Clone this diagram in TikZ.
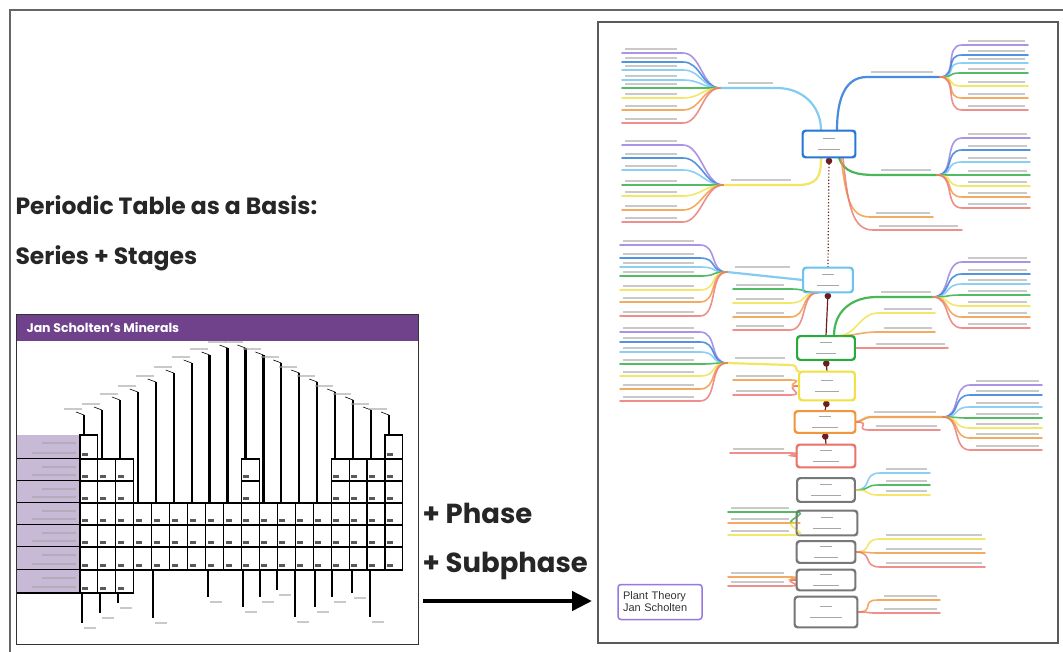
\documentclass[tikz,border=0pt]{standalone}
\usepackage{fontspec}
\setmainfont{Poppins}
\newfontfamily\plainfont{Liberation Sans}
\usetikzlibrary{arrows.meta}
\definecolor{ptPurple}{RGB}{112, 66, 140}
\definecolor{ptLavender}{RGB}{200, 185, 215}
\definecolor{mmPurple}{RGB}{150, 120, 225}
\definecolor{mmBlue}{RGB}{40, 120, 215}
\definecolor{mmLightBlue}{RGB}{110, 195, 240}
\definecolor{mmGreen}{RGB}{40, 170, 60}
\definecolor{mmYellow}{RGB}{240, 225, 70}
\definecolor{mmOrange}{RGB}{240, 150, 60}
\definecolor{mmRed}{RGB}{235, 115, 110}
\definecolor{mmGray}{RGB}{120, 120, 120}
\definecolor{linkRed}{RGB}{110, 30, 30}

\tikzset{
  leaf/.style={draw=#1, line width=1.6pt, opacity=0.8, line cap=round},
  leaftext/.style={draw=black!35, line width=1.5pt, opacity=0.6},
  branch/.style={draw=#1, line width=2.2pt, opacity=0.85, line cap=round},
  mmbox/.style={draw=#1, fill=white, text=black!35, line width=1.4pt, rounded corners=3pt, align=center, inner sep=1pt},
  link/.style={draw=linkRed, line width=1.2pt, -{Circle[length=6.5pt]}},
  ptline/.style={draw=black, line width=1.1pt},
  bigtext/.style={anchor=base west, text=black!85, font=\bfseries\fontsize{#1}{#1}\selectfont}
}
% leaves fanned out to the left / right of a hub
\newcommand{\fanL}[4]{\foreach \yy/\cc in {#4}{%
  \draw[leaf=\cc] (#1) .. controls +(-18,0) and +(18,0) .. (#3,\yy) -- (#2,\yy);
  \draw[leaftext] (#2+3,\yy-4) -- (#3-6,\yy-4);}}
\newcommand{\fanR}[4]{\foreach \yy/\cc in {#4}{%
  \draw[leaf=\cc] (#1) .. controls +(18,0) and +(-18,0) .. (#2,\yy) -- (#3,\yy);
  \draw[leaftext] (#2+6,\yy-4) -- (#3-3,\yy-4);}}
\newcommand{\mmtxt}[2]{\rule{#1pt}{1.5pt}\\[-1pt]\rule{#2pt}{1.5pt}}
% one cell of the periodic table
\newcommand{\ptcell}[3]{%
  \draw[ptline] (80+#1*17.94,#2) rectangle ++(17.94,#3-#2);
  \fill[black!65] (80+#1*17.94+2,#3-6) rectangle ++(6,2.5);}

\begin{document}
\begin{tikzpicture}[x=1pt, y=-1pt]
  \useasboundingbox (0,0) rectangle (1063,651);
  \clip (0,0) rectangle (1063,651);
  \fill[white] (0,0) rectangle (1063,651);
  % outer frame
  \draw[black!60, line width=1.5pt] (10,10) rectangle (1090,680);

  % title texts
  \node[bigtext=23.5] (title) at (12,214) {Periodic Table as a Basis:};
  \node[bigtext=23.5] (subtitle) at (12,264) {Series + Stages};
  \node[bigtext=27.5] (phase) at (419,523) {+ Phase};
  \node[bigtext=27.5] (subphase) at (419,572) {+ Subphase};

  % periodic table panel
  \fill[ptPurple] (16,314) rectangle (418,341);
  \node[anchor=west, text=white, font=\bfseries\fontsize{12.5}{13}\selectfont] (pthead) at (23,328) {Jan Scholten's Minerals};
  \foreach \ya/\yb in {435/459,459/481,481/503,503/525,525/547,547/570,570/593}{
    \fill[ptLavender] (17,\ya) rectangle (80,\yb);
    \draw[line width=1.6pt] (17,\yb) -- (80,\yb);
    \draw[leaftext] (42,\ya+8) -- (76,\ya+8);
    \draw[leaftext] (32,\yb-6) -- (76,\yb-6);
  }
  \foreach \i in {0,17} {\ptcell{\i}{435}{459}}
  \foreach \i in {0,1,2,9,14,15,16,17} {\ptcell{\i}{459}{481} \ptcell{\i}{481}{503}}
  \foreach \i in {0,...,17} {\ptcell{\i}{503}{525} \ptcell{\i}{525}{547} \ptcell{\i}{547}{570}}
  \foreach \i in {0,1,2} {\ptcell{\i}{570}{593}}
  % stage lines above the table
  \foreach \i/\t/\b in {0/415/435,1/410/459,2/400/459,3/392/503,4/382/503,5/373/503,6/363/503,7/355/503,8/348/503,
                        9/348/459,10/355/503,11/363/503,12/373/503,13/382/503,14/392/459,15/400/459,16/410/459,17/415/435}{
    \draw[line width=2.2pt] (80+\i*17.94+4,\b) -- (80+\i*17.94+4,\t);
    \draw[line width=0.6pt] (80+\i*17.94+4,\t) -- (80+\i*17.94-4,\t-3);
    \draw[leaftext] (80+\i*17.94-16,\t-6) -- (80+\i*17.94+2,\t-6);
  }
  % lines below the table
  \foreach \x/\b/\t in {82/623/593,100/613/593,118/603/593,153/618/570,208/597/570,243/607/570,260/597/570,
                        277/590/570,295/617/570,315/607/570,332/597/570,352/593/570,370/617/570}{
    \draw[line width=2pt] (\x,\t) -- (\x,\b);
    \draw[leaftext] (\x+2,\b+5) -- (\x+14,\b+5);
  }
  \draw[black!80, line width=1pt] (16,314) rectangle (418,644);

  % arrow to the mind map
  \coordinate (arrS) at (423,601);
  \coordinate (arrE) at (592,601);
  \draw[line width=4.5pt, -{Triangle[length=20pt, width=19pt]}] (arrS) -- (arrE);

  % mind map panel
  \draw[black!65, line width=2pt] (598,22) rectangle (1058,643);

  % stage boxes
  \node[mmbox=mmBlue, minimum width=52pt, minimum height=26pt] (blue) at (829,144) {\mmtxt{12}{22}};
  \node[mmbox=mmLightBlue, minimum width=49pt, minimum height=24pt] (lblue) at (828,280) {\mmtxt{12}{22}};
  \node[mmbox=mmGreen, minimum width=57pt, minimum height=23pt] (green) at (826,348) {\mmtxt{12}{20}};
  \node[mmbox=mmYellow, minimum width=55pt, minimum height=28pt] (yellow) at (827,386) {\mmtxt{12}{24}};
  \node[mmbox=mmOrange, minimum width=60pt, minimum height=21pt] (orange) at (825,422) {\mmtxt{12}{26}};
  \node[mmbox=mmRed, minimum width=58pt, minimum height=22pt] (red) at (826,456) {\mmtxt{12}{26}};
  \node[mmbox=mmGray, minimum width=57pt, minimum height=23pt] (grayA) at (826,490) {\mmtxt{12}{30}};
  \node[mmbox=mmGray, minimum width=60pt, minimum height=24pt] (grayB) at (827,523) {\mmtxt{12}{28}};
  \node[mmbox=mmGray, minimum width=58pt, minimum height=21pt] (grayC) at (826,552) {\mmtxt{12}{24}};
  \node[mmbox=mmGray, minimum width=58pt, minimum height=20pt] (grayD) at (826,580) {\mmtxt{12}{26}};
  \node[mmbox=mmGray, minimum width=62pt, minimum height=30pt] (grayE) at (826,612) {\mmtxt{12}{32}};

  % links between the stages
  \draw[link, dotted] (lblue.north) -- (blue.south);
  \draw[link] (green.north) -- (lblue.south);
  \draw[link] (yellow.north) -- (green.south);
  \draw[link] (orange.north) -- (yellow.south);
  \draw[link] (red.north) -- (orange.south);

  % branches of the blue box
  \coordinate (tlHub) at (720,88);   \coordinate (tlKnee) at (777,88);
  \coordinate (trHub) at (940,77);   \coordinate (trKnee) at (867,77);
  \coordinate (blHub) at (723,185);  \coordinate (blKnee) at (797,185);
  \coordinate (brHub) at (937,175);  \coordinate (brKnee) at (877,175);
  \draw[branch=mmLightBlue] ([xshift=-8pt]blue.north) .. controls +(0,-25) and +(25,0) .. (tlKnee) -- (tlHub);
  \draw[branch=mmBlue] ([xshift=8pt]blue.north) .. controls +(0,-25) and +(-25,0) .. (trKnee) -- (trHub);
  \draw[branch=mmYellow] ([xshift=-8pt]blue.south) .. controls +(0,20) and +(20,0) .. (blKnee) -- (blHub);
  \draw[branch=mmGreen] ([xshift=10pt]blue.south) .. controls +(5,15) and +(-20,0) .. (brKnee) -- (brHub);
  \draw[leaftext] (tlHub) ++(8,-5) -- ++(45,0);
  \draw[leaftext] (trKnee) ++(4,-5) -- ++(62,0);
  \draw[leaftext] (blHub) ++(8,-5) -- ++(60,0);
  \draw[leaftext] (brKnee) ++(4,-5) -- ++(50,0);
  \fanL{tlHub}{622}{683}{53/mmPurple,62/mmBlue,70/mmLightBlue,80/mmLightBlue,88/mmGreen,98/mmYellow,110/mmOrange,123/mmRed}
  \fanR{trHub}{962}{1028}{45/mmPurple,55/mmBlue,63/mmLightBlue,73/mmGreen,86/mmYellow,98/mmOrange,110/mmRed}
  \fanL{blHub}{622}{683}{145/mmPurple,158/mmBlue,170/mmLightBlue,185/mmGreen,196/mmYellow,210/mmOrange,222/mmRed}
  \fanR{brHub}{962}{1030}{138/mmPurple,150/mmBlue,162/mmLightBlue,175/mmGreen,186/mmYellow,197/mmOrange,208/mmRed}
  \draw[leaf=mmOrange] ([xshift=12pt]blue.south) .. controls +(5,40) and +(-20,0) .. (870,217) -- (933,217);
  \draw[leaftext] (876,213) -- (930,213);
  \draw[leaf=mmRed] ([xshift=14pt]blue.south) .. controls +(5,50) and +(-20,0) .. (873,230) -- (962,230);
  \draw[leaftext] (879,226) -- (958,226);

  % branches of the light blue box
  \coordinate (lbHub) at (727,272);
  \draw[branch=mmLightBlue] (lblue.west) -- (lbHub);
  \draw[leaftext] (lbHub) ++(8,-5) -- ++(55,0);
  \fanL{lbHub}{620}{700}{245/mmPurple,258/mmBlue,267/mmLightBlue,276/mmGreen,290/mmYellow,302/mmOrange,316/mmRed}
  \fanL{[xshift=-10pt]lblue.south}{733}{790}{289/mmGreen,303/mmYellow,317/mmOrange,330/mmRed}

  % branches of the green box
  \coordinate (gHub) at (933,297);  \coordinate (gKnee) at (877,297);
  \draw[branch=mmGreen] ([xshift=8pt]green.north) .. controls +(0,-25) and +(-25,0) .. (gKnee) -- (gHub);
  \draw[leaftext] (gKnee) ++(4,-5) -- ++(50,0);
  \fanR{gHub}{962}{1030}{262/mmPurple,274/mmBlue,284/mmLightBlue,295/mmGreen,306/mmYellow,317/mmOrange,328/mmRed}
  \fanR{[xshift=12pt]green.north}{878}{935}{313/mmYellow,332/mmOrange}
  \fanR{green.east}{870}{948}{348/mmRed}

  % branches of the yellow box
  \coordinate (yHub) at (727,363);  \coordinate (yKnee) at (790,365);
  \draw[branch=mmYellow] (yellow.north west) .. controls +(-5,0) and +(10,0) .. (yKnee) -- (yHub);
  \draw[leaftext] (yHub) ++(8,-5) -- ++(50,0);
  \fanL{yHub}{620}{700}{332/mmPurple,342/mmBlue,352/mmLightBlue,364/mmGreen,376/mmYellow,389/mmOrange,401/mmRed}
  \fanL{yellow.west}{733}{790}{380/mmOrange,395/mmRed}

  % branches of the orange box
  \coordinate (oHub) at (943,417);  \coordinate (oKnee) at (870,417);
  \draw[branch=mmOrange] (orange.east) .. controls +(5,0) and +(-5,0) .. (oKnee) -- (oHub);
  \draw[leaftext] (oKnee) ++(4,-5) -- ++(62,0);
  \fanR{oHub}{970}{1042}{385/mmPurple,395/mmBlue,407/mmLightBlue,418/mmGreen,428/mmYellow,438/mmOrange,450/mmRed}
  \fanR{orange.east}{870}{940}{430/mmRed}

  % leaves of the remaining boxes
  \fanL{red.west}{730}{790}{453/mmRed}
  \fanR{grayA.east}{880}{930}{473/mmLightBlue,485/mmGreen,495/mmYellow}
  \fanL{grayB.west}{728}{795}{512/mmGreen,523/mmOrange,535/mmYellow}
  \fanR{grayC.east}{880}{985}{539/mmYellow,553/mmOrange,567/mmRed}
  \fanL{grayD.west}{728}{790}{577/mmOrange,586/mmRed}
  \fanR{grayE.east}{878}{940}{600/mmOrange,613/mmRed}

  % redraw boxes on top of the branch ends
  \foreach \b/\c in {blue/mmBlue,lblue/mmLightBlue,green/mmGreen,yellow/mmYellow,orange/mmOrange,red/mmRed,
                     grayA/mmGray,grayB/mmGray,grayC/mmGray,grayD/mmGray,grayE/mmGray}{
    \draw[\c, line width=1.4pt, rounded corners=3pt] (\b.south west) rectangle (\b.north east);
  }

  % legend
  \node[draw=mmPurple, line width=1.5pt, rounded corners=3pt, minimum width=84pt, minimum height=35pt,
        text width=74pt, align=left, text=black!80, font=\plainfont\fontsize{11}{12}\selectfont] (plant) at (660,602) {Plant Theory\\Jan Scholten};
\end{tikzpicture}
\end{document}
